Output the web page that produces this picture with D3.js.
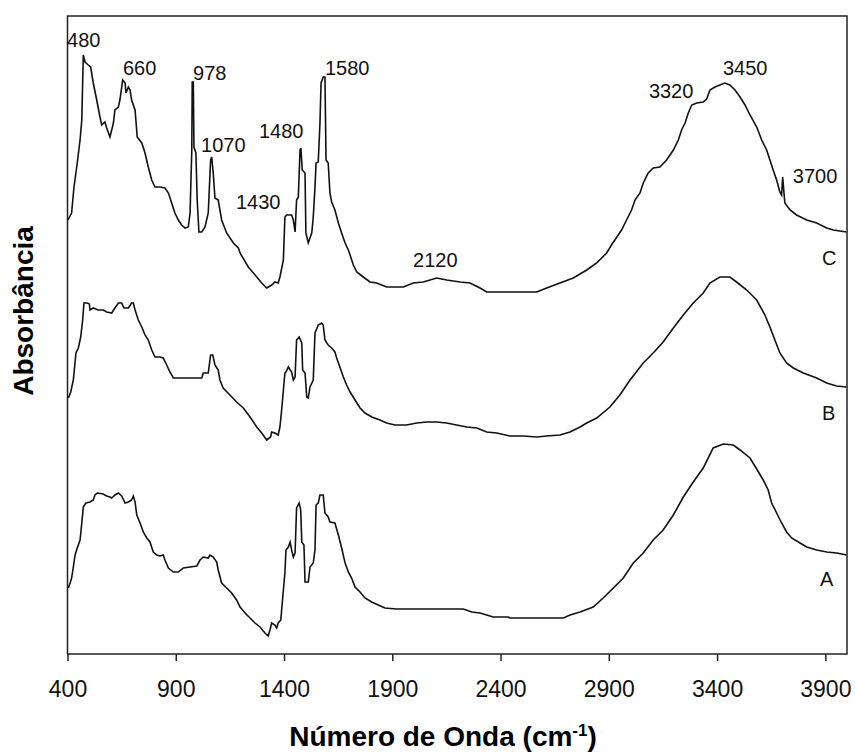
<!DOCTYPE html>
<html>
<head>
<meta charset="utf-8">
<script src="https://cdn.jsdelivr.net/npm/d3@7/dist/d3.min.js"></script>
<style>
    body { margin: 0; background: #FFFFFF; }
</style>
</head>
<body>
<div id="chart"></div>
<script>
// FTIR spectra: [wavenumber (cm-1), absorbance (arbitrary units)]
const spectrumA = [[404,66],[412,71],[419,76],[427,87],[435,99],[445,106],[458,114],[466,131],[473,147],[485,151],[504,152],[519,154],[527,159],[538,161],[565,160],[581,158],[596,157],[604,156],[619,159],[635,161],[650,158],[666,151],[681,152],[696,154],[704,158],[712,152],[720,139],[735,131],[750,122],[766,116],[781,112],[796,102],[812,99],[827,98],[842,99],[850,94],[866,86],[889,82],[912,82],[935,86],[966,87],[997,88],[1012,94],[1027,97],[1050,96],[1058,99],[1073,97],[1089,92],[1096,84],[1112,71],[1135,66],[1158,61],[1181,54],[1197,47],[1220,41],[1243,36],[1266,31],[1289,27],[1312,21],[1327,18],[1335,24],[1343,31],[1358,29],[1366,26],[1373,31],[1385,34],[1389,44],[1397,64],[1404,81],[1409,104],[1420,107],[1428,112],[1435,104],[1443,97],[1451,101],[1458,146],[1470,151],[1477,144],[1482,112],[1492,109],[1497,72],[1512,72],[1520,87],[1535,91],[1543,104],[1548,149],[1558,151],[1566,159],[1581,159],[1589,141],[1604,137],[1612,132],[1635,131],[1651,119],[1666,106],[1682,91],[1697,82],[1712,76],[1728,67],[1751,62],[1774,56],[1805,52],[1835,49],[1866,46],[1920,45],[2074,45],[2228,45],[2267,42],[2305,41],[2336,39],[2366,37],[2436,37],[2444,36],[2690,36],[2721,39],[2767,42],[2828,47],[2874,56],[2921,66],[2967,76],[3013,91],[3059,101],[3105,114],[3151,124],[3198,139],[3244,157],[3290,172],[3336,186],[3382,206],[3429,210],[3475,209],[3506,204],[3552,196],[3583,185],[3613,174],[3636,164],[3652,151],[3675,141],[3698,131],[3721,122],[3744,116],[3783,111],[3814,107],[3860,104],[3906,102],[3952,101],[3998,99]];

const spectrumB = [[404,256],[415,262],[427,274],[439,301],[450,306],[461,317],[470,334],[476,351],[491,351],[501,350],[504,344],[519,346],[542,344],[565,344],[581,342],[604,341],[619,346],[635,351],[650,351],[661,346],[681,346],[696,351],[704,351],[712,344],[727,334],[743,327],[758,319],[773,314],[789,304],[804,297],[827,297],[842,296],[858,289],[873,282],[889,276],[950,276],[1020,276],[1027,281],[1050,281],[1061,299],[1071,299],[1081,289],[1096,284],[1104,274],[1119,266],[1150,259],[1181,252],[1212,246],[1243,237],[1274,227],[1297,221],[1320,214],[1338,217],[1343,222],[1358,221],[1373,219],[1381,227],[1389,244],[1404,281],[1409,282],[1420,287],[1435,282],[1443,274],[1451,277],[1458,314],[1470,317],[1482,311],[1486,284],[1497,281],[1505,257],[1512,256],[1520,267],[1535,274],[1543,321],[1558,329],[1574,331],[1581,329],[1589,314],[1604,309],[1620,306],[1635,302],[1643,296],[1658,287],[1674,277],[1689,269],[1705,262],[1728,254],[1751,246],[1774,241],[1805,237],[1843,234],[1874,231],[1912,229],[1966,229],[2013,231],[2059,232],[2105,232],[2151,231],[2197,229],[2244,227],[2290,226],[2336,222],[2382,221],[2444,218],[2505,218],[2567,217],[2613,218],[2674,219],[2721,222],[2767,227],[2798,231],[2844,236],[2905,247],[2951,259],[2998,274],[3059,291],[3105,301],[3151,312],[3198,326],[3244,339],[3290,351],[3336,361],[3367,371],[3413,377],[3459,377],[3490,372],[3537,364],[3583,354],[3621,339],[3644,327],[3667,314],[3690,301],[3721,291],[3752,286],[3798,281],[3860,276],[3906,271],[3952,268],[3998,267]];

const spectrumC = [[402,434],[419,441],[430,467],[445,491],[458,514],[466,534],[473,599],[481,592],[496,589],[507,587],[519,571],[535,554],[550,537],[558,529],[573,532],[581,526],[596,517],[612,531],[619,544],[635,547],[642,554],[655,574],[666,571],[670,561],[681,567],[689,564],[696,554],[712,544],[722,517],[743,511],[758,501],[773,487],[789,474],[804,467],[827,467],[850,466],[866,461],[881,451],[896,441],[912,434],[927,429],[943,426],[958,427],[966,441],[974,504],[976,572],[981,572],[984,507],[993,501],[999,454],[1007,422],[1020,422],[1035,427],[1050,441],[1061,494],[1066,497],[1073,481],[1081,456],[1096,454],[1112,434],[1135,421],[1166,411],[1189,406],[1197,401],[1235,387],[1274,377],[1297,371],[1320,366],[1343,369],[1358,372],[1373,371],[1381,377],[1397,394],[1404,437],[1412,439],[1435,439],[1443,434],[1451,422],[1458,454],[1466,457],[1474,504],[1478,506],[1484,484],[1497,481],[1501,421],[1512,411],[1528,421],[1535,437],[1543,467],[1548,491],[1558,492],[1566,531],[1571,571],[1581,577],[1589,577],[1594,494],[1604,491],[1612,461],[1620,452],[1635,444],[1651,431],[1666,421],[1682,411],[1697,404],[1705,399],[1720,389],[1736,382],[1766,377],[1797,372],[1828,371],[1874,367],[1951,367],[1997,371],[2043,372],[2105,376],[2151,374],[2213,372],[2259,371],[2305,366],[2336,362],[2397,362],[2567,362],[2613,366],[2674,371],[2736,376],[2798,384],[2844,391],[2890,401],[2915,410],[2928,414],[2959,424],[2982,434],[3005,444],[3021,454],[3044,461],[3059,471],[3082,481],[3105,486],[3136,487],[3167,494],[3198,504],[3221,514],[3236,524],[3252,531],[3267,541],[3283,549],[3306,551],[3336,552],[3352,555],[3367,564],[3390,567],[3413,569],[3436,571],[3459,569],[3483,564],[3506,557],[3529,549],[3552,539],[3583,527],[3606,514],[3629,504],[3644,494],[3659,484],[3675,474],[3690,462],[3698,459],[3703,477],[3709,461],[3713,451],[3737,444],[3767,439],[3814,434],[3860,431],[3906,426],[3937,424],[3998,422]];

// Band annotations (text, wavenumber, absorbance)
const peakText = ["480", "660", "978", "1070", "1430", "1480", "1580", "2120", "3320", "3450", "3700"];
const peakWave = [398, 656, 980, 1017, 1178, 1284, 1589, 1996, 3085, 3427, 3750];
const peakAbs  = [607, 579, 574, 502, 445, 516, 579, 387, 556, 579, 471];

// Spectrum names
const curveText = ["A", "B", "C"];
const curveWave = [3875, 3884, 3884];
const curveAbs  = [68, 234, 389];

const xDomain = [400, 4000];
const yDomain = [0, 638];
const xTicks = [400, 900, 1400, 1900, 2400, 2900, 3400, 3900];

const svgAttr = {
    width: 855,
    height: 753
};

const plotAttr = {
    left: 67.5,
    right: 847,
    top: 16,
    bottom: 654,
    frameColor: "#222222",
    lineColor: "#111111",
    textColor: "#111111",
    font: "'Liberation Sans', Arial, sans-serif"
};

const x = d3.scaleLinear()
            .domain(xDomain)
            .range([plotAttr.left, plotAttr.right]);

const y = d3.scaleLinear()
            .domain(yDomain)
            .range([plotAttr.bottom, plotAttr.top]);

const svg = d3.select("#chart")
              .append("svg")
              .attr("width", svgAttr.width)
              .attr("height", svgAttr.height)
              .style("font-family", plotAttr.font);

// Frame
svg.append("rect")
   .attr("x", plotAttr.left)
   .attr("y", plotAttr.top)
   .attr("width", plotAttr.right - plotAttr.left)
   .attr("height", plotAttr.bottom - plotAttr.top)
   .attr("fill", "none")
   .attr("stroke", plotAttr.frameColor)
   .attr("stroke-width", 1.5);

// X axis
const xAxis = svg.append("g")
                 .attr("transform", "translate(0," + plotAttr.bottom + ")")
                 .call(d3.axisBottom(x)
                         .tickValues(xTicks)
                         .tickFormat(d3.format("d"))
                         .tickSizeInner(7)
                         .tickSizeOuter(0)
                         .tickPadding(20));

xAxis.select(".domain").remove();
xAxis.selectAll(".tick line")
     .attr("stroke", plotAttr.frameColor)
     .attr("stroke-width", 1.5);
xAxis.selectAll(".tick text")
     .attr("fill", plotAttr.textColor)
     .style("font-family", plotAttr.font)
     .style("font-size", "23px");

// Spectra
const line = d3.line()
               .x(d => x(d[0]))
               .y(d => y(d[1]))
               .curve(d3.curveLinear);

[spectrumA, spectrumB, spectrumC].forEach(s => {
    svg.append("path")
       .attr("d", line(s))
       .attr("fill", "none")
       .attr("stroke", plotAttr.lineColor)
       .attr("stroke-width", 1.6)
       .attr("stroke-linejoin", "miter");
});

// Band labels
peakText.forEach((t, i) => {
    svg.append("text")
       .attr("x", x(peakWave[i]))
       .attr("y", y(peakAbs[i]))
       .attr("fill", plotAttr.textColor)
       .style("font-size", "20px")
       .text(t);
});

curveText.forEach((t, i) => {
    svg.append("text")
       .attr("x", x(curveWave[i]))
       .attr("y", y(curveAbs[i]))
       .attr("fill", plotAttr.textColor)
       .style("font-size", "20px")
       .text(t);
});

// Axis titles
const xTitle = svg.append("text")
                  .attr("x", 443)
                  .attr("y", 746)
                  .attr("text-anchor", "middle")
                  .attr("fill", "#000000")
                  .style("font-size", "28px")
                  .style("font-weight", "bold");
xTitle.append("tspan").text("Número de Onda (cm");
xTitle.append("tspan")
      .attr("dy", -10)
      .style("font-size", "17px")
      .text("-1");
xTitle.append("tspan")
      .attr("dy", 10)
      .text(")");

svg.append("text")
   .attr("transform", "translate(33,311) rotate(-90)")
   .attr("text-anchor", "middle")
   .attr("fill", "#000000")
   .style("font-size", "28px")
   .style("font-weight", "bold")
   .text("Absorbância");
</script>
</body>
</html>
